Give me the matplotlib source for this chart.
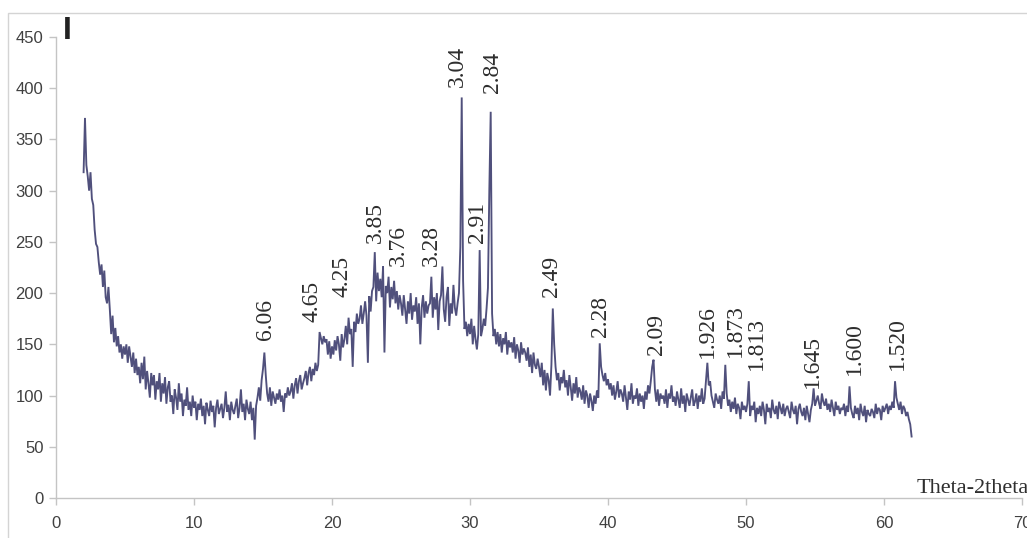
import numpy as np
import matplotlib.pyplot as plt
from matplotlib.patches import Rectangle

# diffractogram, 2-theta from 2.0 to 62.0 deg in 0.1 deg steps (one row per degree)
two_theta_start = 2.0
two_theta_step = 0.1
intensity_rows = [
    [318, 371, 325, 314, 300, 318, 292, 286, 262, 248],   # 2
    [245, 230, 218, 228, 206, 222, 196, 190, 206, 184],   # 3
    [160, 178, 152, 166, 148, 158, 142, 150, 136, 148],   # 4
    [140, 150, 132, 148, 138, 128, 142, 122, 136, 120],   # 5
    [128, 112, 132, 116, 138, 106, 124, 112, 98, 122],    # 6
    [110, 120, 96, 114, 106, 122, 94, 112, 102, 118],     # 7
    [92, 108, 114, 94, 100, 82, 106, 98, 86, 112],        # 8
    [94, 102, 80, 96, 90, 108, 86, 94, 80, 100],          # 9
    [88, 94, 76, 92, 86, 97, 80, 90, 72, 93],             # 10
    [86, 80, 95, 84, 90, 69, 88, 96, 82, 87],             # 11
    [92, 78, 88, 104, 84, 91, 76, 94, 86, 82],            # 12
    [90, 97, 78, 88, 106, 84, 92, 76, 96, 87],            # 13
    [82, 94, 76, 88, 57, 90, 98, 108, 95, 115],           # 14
    [126, 142, 120, 102, 94, 108, 90, 104, 98, 92],       # 15
    [102, 96, 106, 94, 100, 84, 102, 98, 108, 100],       # 16
    [104, 112, 97, 110, 117, 102, 114, 120, 106, 112],    # 17
    [117, 124, 110, 122, 128, 114, 126, 120, 132, 124],   # 18
    [130, 162, 156, 150, 158, 152, 155, 140, 153, 136],   # 19
    [148, 140, 154, 144, 158, 150, 134, 160, 147, 155],   # 20
    [168, 150, 176, 160, 165, 128, 172, 162, 180, 170],   # 21
    [175, 188, 170, 180, 192, 178, 132, 197, 182, 202],   # 22
    [206, 240, 192, 220, 202, 214, 196, 226, 142, 207],   # 23
    [200, 216, 186, 206, 194, 212, 190, 202, 184, 198],   # 24
    [190, 178, 198, 184, 170, 192, 180, 200, 174, 188],   # 25
    [182, 196, 170, 190, 150, 186, 198, 176, 192, 180],   # 26
    [188, 190, 216, 176, 196, 184, 200, 164, 192, 198],   # 27
    [226, 184, 172, 196, 206, 168, 190, 180, 208, 186],   # 28
    [178, 190, 200, 245, 391, 212, 165, 172, 158, 170],   # 29
    [160, 175, 150, 168, 155, 145, 160, 242, 158, 165],   # 30
    [175, 168, 185, 205, 300, 377, 180, 158, 165, 150],   # 31
    [162, 148, 160, 142, 156, 150, 162, 140, 154, 147],   # 32
    [152, 142, 157, 136, 150, 144, 132, 152, 140, 146],   # 33
    [142, 134, 147, 128, 140, 122, 142, 130, 126, 136],   # 34
    [128, 118, 132, 110, 125, 105, 122, 115, 100, 130],   # 35
    [185, 150, 128, 115, 122, 105, 118, 112, 125, 108],   # 36
    [115, 100, 120, 108, 95, 112, 102, 118, 98, 108],     # 37
    [104, 96, 110, 92, 105, 100, 88, 102, 95, 85],        # 38
    [100, 92, 105, 98, 151, 128, 120, 114, 122, 110],     # 39
    [116, 106, 112, 100, 110, 96, 104, 114, 98, 106],     # 40
    [102, 94, 110, 98, 86, 104, 96, 112, 92, 100],        # 41
    [97, 107, 90, 102, 94, 100, 87, 104, 96, 110],        # 42
    [102, 114, 128, 135, 106, 94, 106, 90, 102, 97],      # 43
    [100, 92, 106, 88, 102, 97, 110, 94, 99, 90],         # 44
    [104, 96, 88, 107, 92, 100, 84, 102, 96, 90],         # 45
    [98, 106, 90, 94, 102, 87, 100, 94, 107, 92],         # 46
    [97, 115, 132, 110, 114, 100, 94, 88, 102, 96],       # 47
    [92, 100, 87, 104, 97, 130, 102, 90, 96, 84],         # 48
    [94, 87, 98, 82, 92, 88, 77, 94, 86, 90],             # 49
    [84, 92, 114, 80, 90, 86, 94, 74, 88, 82],            # 50
    [90, 80, 94, 86, 72, 92, 84, 88, 78, 96],             # 51
    [86, 82, 90, 77, 94, 88, 82, 92, 80, 87],             # 52
    [90, 84, 78, 94, 86, 82, 90, 72, 87, 92],             # 53
    [84, 80, 88, 76, 90, 82, 74, 86, 92, 107],            # 54
    [90, 95, 100, 92, 87, 102, 94, 90, 97, 86],           # 55
    [92, 84, 96, 88, 80, 94, 86, 90, 82, 88],             # 56
    [86, 92, 80, 90, 84, 109, 88, 82, 78, 90],            # 57
    [82, 88, 76, 92, 84, 80, 90, 74, 86, 82],             # 58
    [80, 87, 84, 78, 92, 82, 88, 86, 76, 90],             # 59
    [84, 88, 92, 82, 90, 86, 94, 88, 114, 98],            # 60
    [92, 86, 94, 82, 90, 87, 80, 84, 77, 72],             # 61
    [60],                                                 # 62
]

# d-spacing labels: text, 2-theta position, bottom of the label (counts)
peak_labels = ['6.06', '4.65', '4.25', '3.85', '3.76', '3.28', '3.04', '2.91',
               '2.84', '2.49', '2.28', '2.09', '1.926', '1.873', '1.813',
               '1.645', '1.600', '1.520']
peak_label_x = [15.18, 18.55, 20.72, 23.12, 24.78, 27.17, 29.06, 30.51,
                31.60, 35.94, 39.49, 43.48, 47.17, 49.20, 50.72,
                54.78, 57.83, 60.94]
peak_label_y = [154, 172, 196, 249, 226, 226, 401, 249,
                395, 196, 157, 140, 137, 138, 125,
                107, 120, 125]

x_ticks = [0, 10, 20, 30, 40, 50, 60, 70]
y_ticks = [0, 50, 100, 150, 200, 250, 300, 350, 400, 450]

intensity = np.array([v for row in intensity_rows for v in row], dtype=float)
two_theta = two_theta_start + two_theta_step * np.arange(len(intensity))

W, H = 1027, 538
fig = plt.figure(figsize=(W / 100, H / 100), dpi=100)
ax = fig.add_axes([56 / W, 40 / H, 966 / W, 461 / H])

ax.plot(two_theta, intensity, color='#50507c', linewidth=1.35,
        solid_joinstyle='miter')

ax.set_xlim(0, 70)
ax.set_ylim(0, 450)
ax.set_xticks(x_ticks)
ax.set_yticks(y_ticks)
for s in ['top', 'right']:
    ax.spines[s].set_visible(False)
for s in ['left', 'bottom']:
    ax.spines[s].set_color('#c4c4c4')
    ax.spines[s].set_linewidth(1.0)
ax.tick_params(axis='both', colors='#c4c4c4', length=5, width=1.0,
               labelcolor='#404040')
ax.tick_params(axis='x', pad=8)
ax.tick_params(axis='y', pad=4)
for lab in ax.get_xticklabels() + ax.get_yticklabels():
    lab.set_fontfamily('Liberation Sans')
    lab.set_fontsize(12)

for txt, px, py in zip(peak_labels, peak_label_x, peak_label_y):
    ax.text(px, py, txt, rotation=90, ha='center', va='bottom',
            fontfamily='Liberation Serif', fontsize=17, color='#2e2e2e',
            clip_on=False)

# axis captions
fig.text(917 / W, (H - 493) / H, 'Theta-2theta', ha='left', va='baseline',
         fontfamily='Liberation Serif', fontsize=16, color='#2e2e2e')
fig.text(67.5 / W, (H - 39) / H, 'I', ha='center', va='baseline',
         fontfamily='Liberation Sans', fontweight='bold', fontsize=23,
         color='#222222')

# thin chart-area frame
fig.patches.append(Rectangle((8 / W, -0.1), 1.2, (H - 13) / H + 0.1,
                             transform=fig.transFigure, fill=False,
                             edgecolor='#d4d4d4', linewidth=1.0))

fig.savefig('out.png', dpi=100)
